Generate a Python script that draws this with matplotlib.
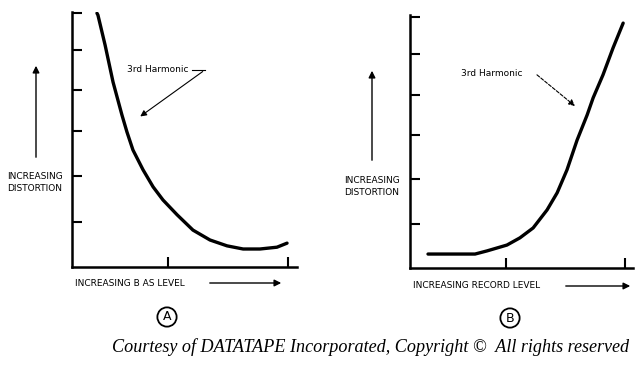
import matplotlib
matplotlib.use('Agg')
import matplotlib.pyplot as plt

# Panel A: 3rd harmonic distortion vs bias level (arbitrary units)
bias_x = [1.04, 1.08, 1.38, 1.71, 2.08, 2.29, 2.54, 2.96, 3.38, 3.79, 4.38, 5.04,
          5.75, 6.46, 7.13, 7.83, 8.54, 8.96]
bias_y = [5.64, 5.60, 4.93, 4.11, 3.38, 3.00, 2.60, 2.16, 1.78, 1.49, 1.16, 0.82,
          0.60, 0.47, 0.40, 0.40, 0.44, 0.53]
a_yticks = [1.0, 2.02, 3.02, 3.93, 4.82, 5.64]
a_xticks = [4, 9]

# Panel B: 3rd harmonic distortion vs record level (arbitrary units)
rec_x = [0.75, 2.71, 3.21, 4.04, 4.58, 5.13, 5.71, 6.13, 6.54, 6.96, 7.38, 7.63,
         8.04, 8.46, 8.88]
rec_y = [0.31, 0.31, 0.38, 0.51, 0.67, 0.89, 1.29, 1.67, 2.18, 2.84, 3.40, 3.78,
         4.29, 4.89, 5.44]
b_yticks = [0.98, 1.98, 2.96, 3.84, 4.76, 5.58]
b_xticks = [4, 8.96]

W, H = 643, 365
fig = plt.figure(figsize=(W / 100, H / 100), dpi=100)


def fx(px):
    return px / W


def fy(py):
    return 1 - py / H


def setup_axes(rect, xlim, ylim, xticks, yticks):
    ax = fig.add_axes(rect)
    ax.set_xlim(*xlim)
    ax.set_ylim(*ylim)
    for s in ['top', 'right']:
        ax.spines[s].set_visible(False)
    for s in ['left', 'bottom']:
        ax.spines[s].set_linewidth(1.8)
    ax.set_xticks(xticks)
    ax.set_yticks(yticks)
    ax.tick_params(direction='in', length=7, width=1.5, labelleft=False, labelbottom=False)
    return ax


ax_a = setup_axes([fx(72), fy(267), 225 / W, 255 / H], (0, 9.375), (0, 5.667), a_xticks, a_yticks)
ax_a.plot(bias_x, bias_y, color='black', lw=2.4, solid_capstyle='round', solid_joinstyle='round')
ax_a.text(3.58, 4.38, '3rd Harmonic', fontsize=6.5, ha='center', va='center')
ax_a.plot([5.0, 5.54], [4.38, 4.38], color='black', lw=0.8)
ax_a.annotate('', xy=(2.75, 3.31), xytext=(5.54, 4.38),
              arrowprops=dict(arrowstyle='-|>', color='black', lw=0.8, mutation_scale=9))

ax_b = setup_axes([fx(410), fy(268), 223 / W, 253 / H], (0, 9.29), (0, 5.62), b_xticks, b_yticks)
ax_b.plot(rec_x, rec_y, color='black', lw=2.4, solid_capstyle='round', solid_joinstyle='round')
ax_b.text(3.42, 4.33, '3rd Harmonic', fontsize=6.5, ha='center', va='center')
ax_b.annotate('', xy=(6.96, 3.56), xytext=(5.2, 4.33),
              arrowprops=dict(arrowstyle='-|>', color='black', lw=0.8, ls=(0, (3, 1.5)),
                              mutation_scale=9))

# axis captions and arrows
label_font = dict(fontsize=6.5, ha='center', va='center', linespacing=1.4)
fig.text(fx(35), fy(182.5), 'INCREASING\nDISTORTION', **label_font)
fig.text(fx(372), fy(186.5), 'INCREASING\nDISTORTION', **label_font)
fig.text(fx(75), fy(283), 'INCREASING B AS LEVEL', fontsize=6.5, ha='left', va='center')
fig.text(fx(413), fy(286), 'INCREASING RECORD LEVEL', fontsize=6.5, ha='left', va='center')

arrow = dict(arrowstyle='-|>', color='black', lw=1.0, mutation_scale=10)
for (x0, y0, x1, y1) in [(36, 160, 36, 63), (372, 163, 372, 68),
                         (207, 283, 284, 283), (563, 286, 633, 286)]:
    fig.add_artist(matplotlib.patches.FancyArrowPatch(
        (fx(x0), fy(y0)), (fx(x1), fy(y1)), transform=fig.transFigure, **arrow))

circle = dict(boxstyle='circle,pad=0.25', fc='white', ec='black', lw=1.3)
fig.text(fx(167), fy(317), 'A', fontsize=9, ha='center', va='center', bbox=circle)
fig.text(fx(510), fy(318), 'B', fontsize=9, ha='center', va='center', bbox=circle)

fig.text(fx(112), fy(347), 'Courtesy of DATATAPE Incorporated, Copyright \u00a9  All rights reserved',
         fontsize=13.1, family='Liberation Serif', style='italic', ha='left', va='center')

fig.savefig('out.png', dpi=100)
